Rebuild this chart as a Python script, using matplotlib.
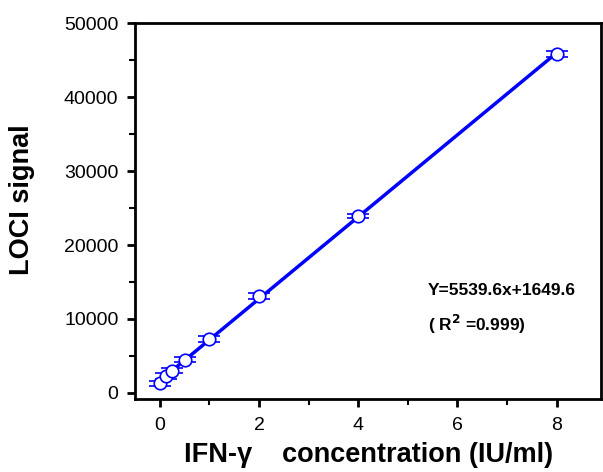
import numpy as np
import matplotlib.pyplot as plt
from matplotlib.ticker import MultipleLocator

plt.rcParams['font.family'] = ['Liberation Sans', 'DejaVu Sans']

# datos
conc = [0, 0.125, 0.25, 0.5, 1, 2, 4, 8]
signal = [1300, 2300, 3000, 4500, 7300, 13100, 23900, 45800]
err = [350, 350, 350, 350, 350, 350, 300, 400]
slope = 5539.6
intercept = 1649.6

fig = plt.figure(figsize=(6.03, 4.72), dpi=100)
ax = fig.add_axes([0.224, 0.155, 0.773, 0.796])

xf = np.array([0, 8])
ax.plot(xf, slope * xf + intercept, color='#0000ff', lw=2.5, zorder=2)
eb = ax.errorbar(conc, signal, yerr=err, fmt='o', color='#0000ff', mfc='white',
                 mec='#0000ff', ms=9, mew=1.2, capsize=8, capthick=3, zorder=3)
for lc in eb[2]:
    lc.set_visible(False)

ax.set_xlim(-0.5, 8.9)
ax.set_ylim(-800, 50000)
ax.xaxis.set_major_locator(MultipleLocator(2))
ax.xaxis.set_minor_locator(MultipleLocator(1))
ax.yaxis.set_major_locator(MultipleLocator(10000))
ax.yaxis.set_minor_locator(MultipleLocator(5000))
ax.tick_params(which='major', direction='out', length=6, width=2, labelsize=14)
ax.tick_params(axis='x', which='major', pad=7)
ax.tick_params(axis='y', which='major', pad=6)
ax.tick_params(which='minor', direction='out', length=4, width=1.5)
for s in ax.spines.values():
    s.set_linewidth(2)

ax.set_xlabel('IFN-γ    concentration (IU/ml)', fontsize=19.5, fontweight='bold', labelpad=6)
ax.set_ylabel('LOCI signal', fontsize=19.5, fontweight='bold')
ax.yaxis.set_label_coords(-0.215, 0.53)

ax.text(5.4, 13900, 'Y=5539.6x+1649.6', fontsize=12.5, fontweight='bold', va='center')
ax.text(5.4, 9300, r'( R$^\mathbf{2}$ =0.999)', fontsize=12.5, fontweight='bold', va='center')

plt.savefig('out.png', dpi=100)
